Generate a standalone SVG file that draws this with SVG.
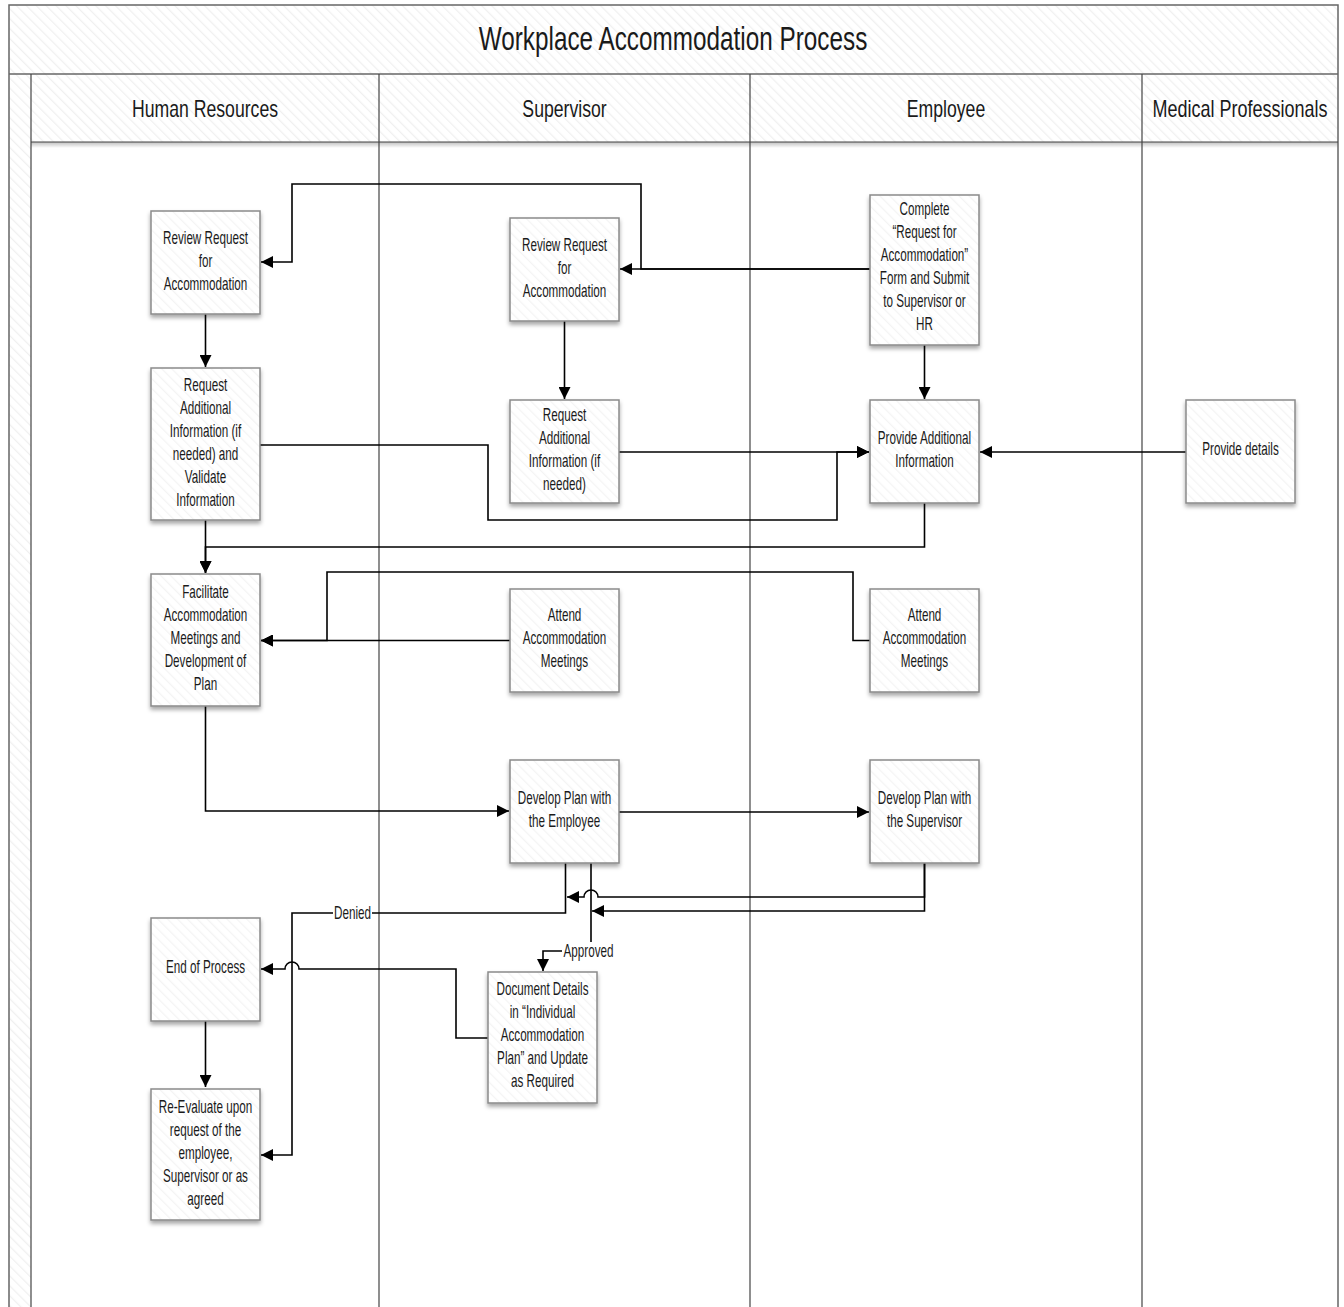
<svg xmlns="http://www.w3.org/2000/svg" width="1344" height="1307" viewBox="0 0 1344 1307">
<defs>
<pattern id="hatch" width="7" height="7" patternUnits="userSpaceOnUse" patternTransform="rotate(-45)">
<rect width="7" height="7" fill="#ffffff"/>
<line x1="0" y1="0" x2="0" y2="7" stroke="#f0f0f0" stroke-width="2.5"/>
</pattern>
<pattern id="hatchN" width="7" height="7" patternUnits="userSpaceOnUse" patternTransform="rotate(-45)">
<rect width="7" height="7" fill="#ffffff"/>
<line x1="0" y1="0" x2="0" y2="7" stroke="#f4f4f4" stroke-width="2.5"/>
</pattern>
<filter id="shadow" x="-10%" y="-10%" width="130%" height="130%">
<feDropShadow dx="0" dy="3" stdDeviation="2" flood-color="#000" flood-opacity="0.35"/>
</filter>
<linearGradient id="hshadow" x1="0" y1="0" x2="0" y2="1">
<stop offset="0" stop-color="#000" stop-opacity="0.25"/>
<stop offset="1" stop-color="#000" stop-opacity="0"/>
</linearGradient>
<marker id="arr" viewBox="0 0 12 12" refX="12" refY="6" markerWidth="12" markerHeight="12" markerUnits="userSpaceOnUse" orient="auto">
<path d="M0,0 L12,6 L0,12 z" fill="#000"/>
</marker>
</defs>
<style>
.frame{fill:none;stroke:#666;stroke-width:1.5}
.lane{stroke:#444;stroke-width:1.2;fill:none}
.box{fill:url(#hatchN);stroke:#8a8a8a;stroke-width:1.5;filter:url(#shadow)}
.t{font-family:"Liberation Sans",Arial,sans-serif;font-size:17.5px;fill:#1a1a1a;text-anchor:middle}
.hd{font-family:"Liberation Sans",Arial,sans-serif;font-size:24px;fill:#1a1a1a;text-anchor:middle}
.ttl{font-family:"Liberation Sans",Arial,sans-serif;font-size:34px;fill:#1a1a1a;text-anchor:middle}
.c{fill:none;stroke:#000;stroke-width:1.6;marker-end:url(#arr)}
.lbl{font-family:"Liberation Sans",Arial,sans-serif;font-size:17.5px;fill:#1a1a1a;text-anchor:middle}
</style>
<rect x="0" y="0" width="1344" height="1307" fill="#ffffff"/>
<g id="pool">
<rect x="9" y="5" width="1329" height="69" fill="url(#hatch)"/>
<rect x="31" y="74" width="1307" height="68" fill="url(#hatch)"/>
<rect x="9" y="74" width="22" height="1240" fill="url(#hatch)"/>
<rect x="31" y="142" width="1307" height="6" fill="url(#hshadow)"/>
<path class="frame" d="M9,1310 V5 H1338 V1310"/>
<line class="frame" x1="9" y1="74" x2="1338" y2="74"/>
<line class="lane" x1="31" y1="74" x2="31" y2="1310"/>
<line class="lane" x1="31" y1="142" x2="1338" y2="142" stroke="#555"/>
<line class="lane" x1="379" y1="74" x2="379" y2="1310"/>
<line class="lane" x1="750" y1="74" x2="750" y2="1310"/>
<line class="lane" x1="1142" y1="74" x2="1142" y2="1310"/>
<text class="ttl" transform="translate(673 0) scale(0.715 1)" x="0" y="50">Workplace Accommodation Process</text>
<text class="hd" transform="translate(205 0) scale(0.735 1)" x="0" y="117">Human Resources</text>
<text class="hd" transform="translate(564.5 0) scale(0.735 1)" x="0" y="117">Supervisor</text>
<text class="hd" transform="translate(946 0) scale(0.735 1)" x="0" y="117">Employee</text>
<text class="hd" transform="translate(1240 0) scale(0.75 1)" x="0" y="117">Medical Professionals</text>
</g>
<g id="connectors">
<path class="c" d="M870,269 H620"/>
<path class="c" d="M870,269 H641 V184 H292 V262 H261"/>
<path class="c" d="M205.5,314 V367"/>
<path class="c" d="M564.5,321 V399"/>
<path class="c" d="M924.5,345 V399"/>
<path class="c" d="M619,452 H869"/>
<path class="c" d="M260,445 H488 V520 H837 V452 H869"/>
<path class="c" d="M1186,452 H980"/>
<path class="c" d="M924.5,503 V547 H205.5 V573"/>
<path class="c" d="M205.5,520 V573"/>
<path class="c" d="M510,640.5 H261"/>
<path class="c" d="M870,640.5 H853 V572 H327 V640.5 H261"/>
<path class="c" d="M205.5,706 V811 H509"/>
<path class="c" d="M619,812 H869"/>
<path class="c" d="M924.5,863 V911 H592"/>
<path class="c" d="M924.5,863 V897 H598 A7,7 0 0 0 584,897 H567"/>
<path class="c" d="M565.5,863 V913 H292 V1155 H261"/>
<path class="c" d="M591,863 V951 H543 V971"/>
<path class="c" d="M488,1038 H456 V969 H299 A7,7 0 0 0 285,969 H261"/>
<path class="c" d="M205.5,1021 V1087"/>
<rect x="333" y="904" width="39" height="17" fill="#fff"/>
<text class="lbl" transform="translate(352.5 0) scale(0.667 1)" x="0" y="919">Denied</text>
<rect x="562" y="942" width="53" height="17" fill="#fff"/>
<text class="lbl" transform="translate(588.5 0) scale(0.667 1)" x="0" y="957">Approved</text>
</g>
<g id="hr-review">
<rect class="box" x="151" y="211" width="109" height="103"/>
<text class="t" transform="translate(205.5 0) scale(0.667 1)"><tspan x="0" y="244">Review Request</tspan><tspan x="0" y="267">for</tspan><tspan x="0" y="290">Accommodation</tspan></text>
</g>
<g id="hr-request">
<rect class="box" x="151" y="368" width="109" height="152"/>
<text class="t" transform="translate(205.5 0) scale(0.667 1)"><tspan x="0" y="391">Request</tspan><tspan x="0" y="414">Additional</tspan><tspan x="0" y="437">Information (if</tspan><tspan x="0" y="460">needed) and</tspan><tspan x="0" y="483">Validate</tspan><tspan x="0" y="506">Information</tspan></text>
</g>
<g id="hr-facilitate">
<rect class="box" x="151" y="574" width="109" height="132"/>
<text class="t" transform="translate(205.5 0) scale(0.667 1)"><tspan x="0" y="598">Facilitate</tspan><tspan x="0" y="621">Accommodation</tspan><tspan x="0" y="644">Meetings and</tspan><tspan x="0" y="667">Development of</tspan><tspan x="0" y="690">Plan</tspan></text>
</g>
<g id="hr-end">
<rect class="box" x="151" y="918" width="109" height="103"/>
<text class="t" transform="translate(205.5 0) scale(0.667 1)"><tspan x="0" y="973">End of Process</tspan></text>
</g>
<g id="hr-reevaluate">
<rect class="box" x="151" y="1089" width="109" height="131"/>
<text class="t" transform="translate(205.5 0) scale(0.667 1)"><tspan x="0" y="1113">Re-Evaluate upon</tspan><tspan x="0" y="1136">request of the</tspan><tspan x="0" y="1159">employee,</tspan><tspan x="0" y="1182">Supervisor or as</tspan><tspan x="0" y="1205">agreed</tspan></text>
</g>
<g id="sup-review">
<rect class="box" x="510" y="218" width="109" height="103"/>
<text class="t" transform="translate(564.5 0) scale(0.667 1)"><tspan x="0" y="251">Review Request</tspan><tspan x="0" y="274">for</tspan><tspan x="0" y="297">Accommodation</tspan></text>
</g>
<g id="sup-request">
<rect class="box" x="510" y="400" width="109" height="103"/>
<text class="t" transform="translate(564.5 0) scale(0.667 1)"><tspan x="0" y="421">Request</tspan><tspan x="0" y="444">Additional</tspan><tspan x="0" y="467">Information (if</tspan><tspan x="0" y="490">needed)</tspan></text>
</g>
<g id="sup-attend">
<rect class="box" x="510" y="589" width="109" height="103"/>
<text class="t" transform="translate(564.5 0) scale(0.667 1)"><tspan x="0" y="621">Attend</tspan><tspan x="0" y="644">Accommodation</tspan><tspan x="0" y="667">Meetings</tspan></text>
</g>
<g id="sup-develop">
<rect class="box" x="510" y="760" width="109" height="103"/>
<text class="t" transform="translate(564.5 0) scale(0.667 1)"><tspan x="0" y="804">Develop Plan with</tspan><tspan x="0" y="827">the Employee</tspan></text>
</g>
<g id="sup-document">
<rect class="box" x="488" y="972" width="109" height="131"/>
<text class="t" transform="translate(542.5 0) scale(0.667 1)"><tspan x="0" y="995">Document Details</tspan><tspan x="0" y="1018">in “Individual</tspan><tspan x="0" y="1041">Accommodation</tspan><tspan x="0" y="1064">Plan” and Update</tspan><tspan x="0" y="1087">as Required</tspan></text>
</g>
<g id="emp-complete">
<rect class="box" x="870" y="195" width="109" height="150"/>
<text class="t" transform="translate(924.5 0) scale(0.667 1)"><tspan x="0" y="215">Complete</tspan><tspan x="0" y="238">“Request for</tspan><tspan x="0" y="261">Accommodation”</tspan><tspan x="0" y="284">Form and Submit</tspan><tspan x="0" y="307">to Supervisor or</tspan><tspan x="0" y="330">HR</tspan></text>
</g>
<g id="emp-provide">
<rect class="box" x="870" y="400" width="109" height="103"/>
<text class="t" transform="translate(924.5 0) scale(0.667 1)"><tspan x="0" y="444">Provide Additional</tspan><tspan x="0" y="467">Information</tspan></text>
</g>
<g id="emp-attend">
<rect class="box" x="870" y="589" width="109" height="103"/>
<text class="t" transform="translate(924.5 0) scale(0.667 1)"><tspan x="0" y="621">Attend</tspan><tspan x="0" y="644">Accommodation</tspan><tspan x="0" y="667">Meetings</tspan></text>
</g>
<g id="emp-develop">
<rect class="box" x="870" y="760" width="109" height="103"/>
<text class="t" transform="translate(924.5 0) scale(0.667 1)"><tspan x="0" y="804">Develop Plan with</tspan><tspan x="0" y="827">the Supervisor</tspan></text>
</g>
<g id="med-provide">
<rect class="box" x="1186" y="400" width="109" height="103"/>
<text class="t" transform="translate(1240.5 0) scale(0.667 1)"><tspan x="0" y="455">Provide details</tspan></text>
</g>
</svg>
